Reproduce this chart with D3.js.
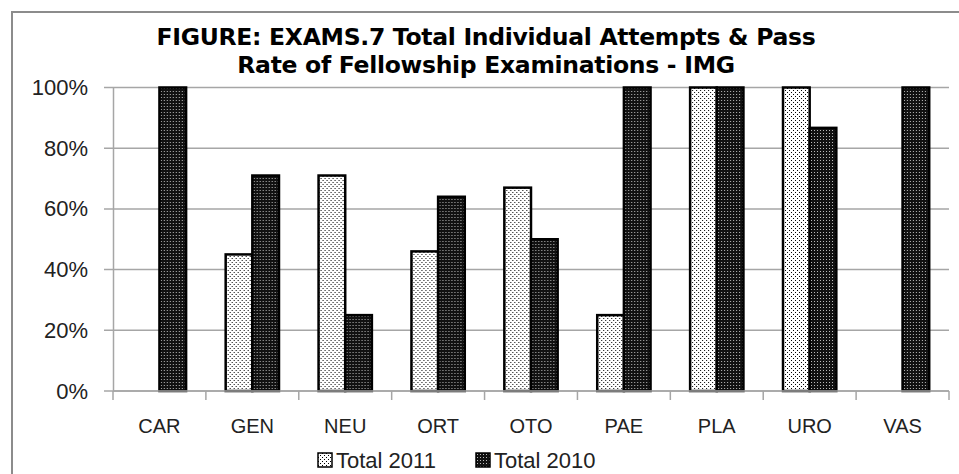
<!DOCTYPE html>
<html>
<head>
<meta charset="utf-8">
<script src="https://cdn.jsdelivr.net/npm/d3@7"></script>
<style>
  body { margin: 0; background: #fff; }
  svg { display: block; font-family: "Liberation Sans", Arial, sans-serif; }
</style>
</head>
<body>
<div id="chart"></div>
<script>
// data
const categories = ["CAR", "GEN", "NEU", "ORT", "OTO", "PAE", "PLA", "URO", "VAS"];
const seriesNames = ["Total 2011", "Total 2010"];
const total2011 = [0, 45, 71, 46, 67, 25, 100, 100, 0];
const total2010 = [100, 71, 25, 64, 50, 100, 100, 86.7, 100];
const yTicks = [0, 20, 40, 60, 80, 100];
const titleLines = ["FIGURE: EXAMS.7 Total Individual Attempts & Pass", "Rate of Fellowship Examinations - IMG"];

const width = 959, height = 474;
const plot = { left: 113, right: 949, top: 87.5, bottom: 391 };

//create canvas
const svg = d3.select("#chart")
    .append("svg")
    .attr("width", width)
    .attr("height", height);

//fill patterns like the excel ones
const defs = svg.append("defs");
const p11 = defs.append("pattern")
    .attr("id", "pat2011")
    .attr("patternUnits", "userSpaceOnUse")
    .attr("width", 4).attr("height", 4);
p11.append("rect").attr("width", 4).attr("height", 4).attr("fill", "#fff");
p11.append("rect").attr("x", 0).attr("y", 0).attr("width", 1).attr("height", 1).attr("fill", "#000");
p11.append("rect").attr("x", 2).attr("y", 2).attr("width", 1).attr("height", 1).attr("fill", "#000");

const p10 = defs.append("pattern")
    .attr("id", "pat2010")
    .attr("patternUnits", "userSpaceOnUse")
    .attr("width", 3).attr("height", 3);
p10.append("rect").attr("width", 3).attr("height", 3).attr("fill", "#111");
p10.append("rect").attr("x", 1).attr("y", 1).attr("width", 1).attr("height", 1).attr("fill", "#bbb");

const fills = ["url(#pat2011)", "url(#pat2010)"];

//outer frame (left and top show, rest runs off the picture)
svg.append("rect")
    .attr("x", 12).attr("y", 12)
    .attr("width", 960).attr("height", 480)
    .attr("fill", "none")
    .attr("stroke", "#8c8c8c")
    .attr("stroke-width", 2);

//title
svg.append("g")
    .selectAll("text")
    .data(titleLines)
    .enter()
    .append("text")
    .attr("x", 486)
    .attr("y", (d, i) => 45 + i * 28)
    .attr("text-anchor", "middle")
    .attr("font-family", "'DejaVu Sans', Verdana, sans-serif")
    .attr("font-weight", "bold")
    .attr("font-size", 23.5)
    .attr("letter-spacing", -0.3)
    .attr("fill", "#000")
    .text(d => d);

//scales
const x0 = d3.scaleBand()
    .domain(categories)
    .range([plot.left, plot.right])
    .paddingInner(0.426)
    .paddingOuter(0.213);

const x1 = d3.scaleBand()
    .domain(seriesNames)
    .range([0, x0.bandwidth()]);

const y = d3.scaleLinear()
    .domain([0, 100])
    .range([plot.bottom, plot.top]);

//gridlines
svg.append("g")
    .selectAll("line")
    .data(yTicks)
    .enter()
    .append("line")
    .attr("x1", plot.left - 9)
    .attr("x2", plot.right)
    .attr("y1", d => y(d))
    .attr("y2", d => y(d))
    .attr("stroke", "#a6a6a6")
    .attr("stroke-width", 1.5);

//y axis
const yAxis = d3.axisLeft(y)
    .tickValues(yTicks)
    .tickSize(0)
    .tickPadding(25)
    .tickFormat(d => d + "%");

svg.append("g")
    .attr("transform", `translate(${plot.left},0)`)
    .call(yAxis)
    .call(g => g.select(".domain").attr("stroke", "#a6a6a6").attr("stroke-width", 1.5))
    .call(g => g.selectAll("text")
        .attr("font-size", 22)
        .attr("fill", "#222")
        .attr("font-family", "Liberation Sans, Arial, sans-serif"));

//bars
const rows = categories.map((c, i) => ({ cat: c, values: [total2011[i], total2010[i]] }));

const groups = svg.append("g")
    .selectAll("g")
    .data(rows)
    .enter()
    .append("g")
    .attr("transform", d => `translate(${x0(d.cat)},0)`);

groups.selectAll("rect")
    .data(d => d.values.map((v, k) => ({ key: seriesNames[k], k: k, v: v })).filter(e => e.v > 0))
    .enter()
    .append("rect")
    .attr("x", d => x1(d.key))
    .attr("y", d => y(d.v))
    .attr("width", x1.bandwidth())
    .attr("height", d => y(0) - y(d.v))
    .attr("fill", d => fills[d.k])
    .attr("stroke", "#000")
    .attr("stroke-width", 2.5);

//x axis with ticks between categories
const xAxisLine = svg.append("g");
xAxisLine.append("line")
    .attr("x1", plot.left)
    .attr("x2", plot.right)
    .attr("y1", plot.bottom)
    .attr("y2", plot.bottom)
    .attr("stroke", "#a6a6a6")
    .attr("stroke-width", 1.5);

const step = x0.step();
xAxisLine.selectAll(".tick")
    .data(d3.range(categories.length + 1))
    .enter()
    .append("line")
    .attr("class", "tick")
    .attr("x1", i => plot.left + i * step)
    .attr("x2", i => plot.left + i * step)
    .attr("y1", plot.bottom)
    .attr("y2", plot.bottom + 9)
    .attr("stroke", "#a6a6a6")
    .attr("stroke-width", 1.5);

xAxisLine.selectAll("text")
    .data(categories)
    .enter()
    .append("text")
    .attr("x", d => x0(d) + x0.bandwidth() / 2)
    .attr("y", 433)
    .attr("text-anchor", "middle")
    .attr("font-size", 20)
    .attr("fill", "#222")
    .text(d => d);

//legend
const legendX = [318, 476];
const legend = svg.append("g")
    .selectAll("g")
    .data(seriesNames)
    .enter()
    .append("g")
    .attr("transform", (d, i) => `translate(${legendX[i]},453)`);

legend.append("rect")
    .attr("width", 14)
    .attr("height", 14)
    .attr("fill", (d, i) => fills[i])
    .attr("stroke", "#000")
    .attr("stroke-width", 1.5);

legend.append("text")
    .attr("x", 18)
    .attr("y", 15)
    .attr("font-size", 22)
    .attr("fill", "#222")
    .text(d => d);
</script>
</body>
</html>
